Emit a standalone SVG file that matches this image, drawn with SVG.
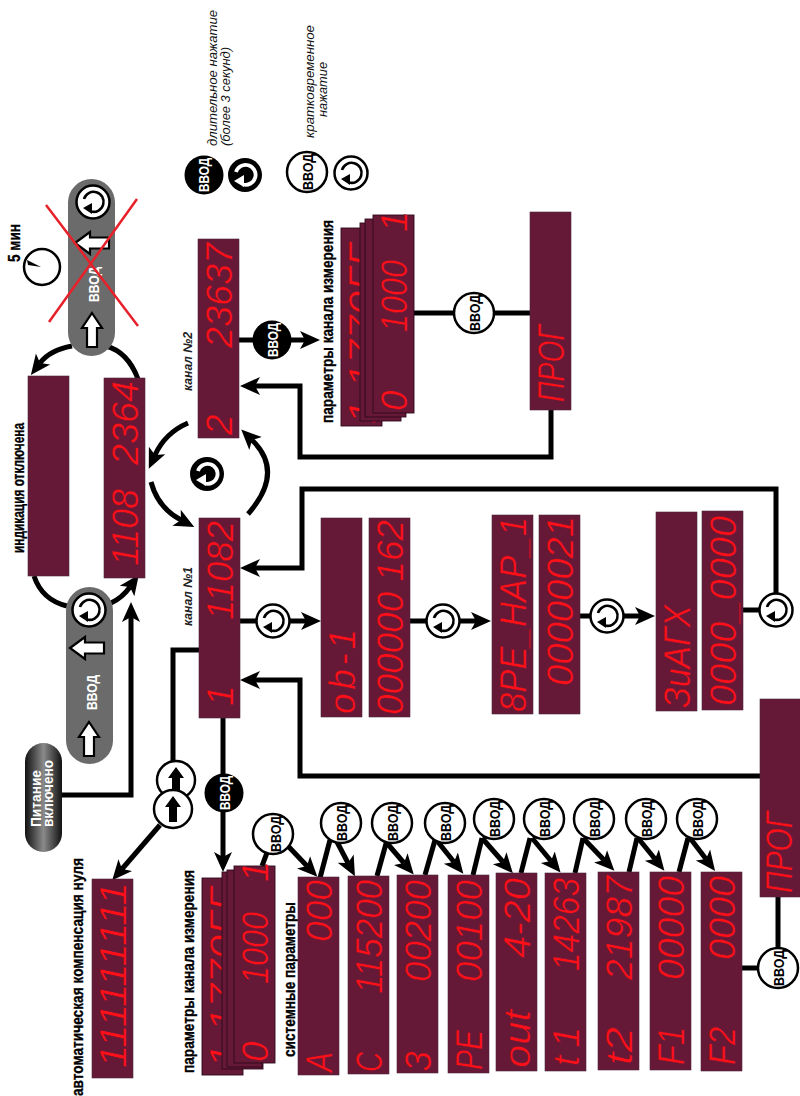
<svg xmlns="http://www.w3.org/2000/svg" width="800" height="1096" viewBox="0 0 800 1096">
<style>
.d{fill:#661837;stroke:#4a2a3a;stroke-width:.6}
.ds{fill:#661837;stroke:#2e0b1b;stroke-width:.9}
.led{font-family:"Liberation Sans",Arial,sans-serif;font-style:italic;font-size:37px;fill:#ff1018;stroke:#661837;stroke-width:.5}
.h{font-family:"Liberation Sans Narrow","Liberation Sans",sans-serif;font-weight:700;font-size:17px;fill:#000;stroke:#000;stroke-width:.35}
.i{font-family:"Liberation Sans",Arial,sans-serif;font-style:italic;font-size:13.500px;fill:#111}
.k{font-family:"Liberation Sans",Arial,sans-serif;font-style:italic;font-weight:700;font-size:12.500px;fill:#222}
.b{font-family:"Liberation Sans Narrow","Liberation Sans",sans-serif;font-weight:700;font-size:15px;fill:#000}
.bw{font-family:"Liberation Sans Narrow","Liberation Sans",sans-serif;font-weight:700;font-size:15px;fill:#fff}
.c{fill:#fff;stroke:#000;stroke-width:2.5}
.l{fill:none;stroke:#000;stroke-width:5}
.a{fill:none;stroke:#000;stroke-width:5;marker-end:url(#ah)}
.p{fill:#6b6b6b}
.w{fill:#fff;stroke:#000;stroke-width:2.2}
.x{stroke:#e8202a;stroke-width:2.5}
</style>
<defs>
<marker id="ah" markerUnits="userSpaceOnUse" markerWidth="26" markerHeight="24" refX="5" refY="12" orient="auto"><path d="M0,3 L20,12 L0,21 L5,12 Z" fill="#000"/></marker>
<linearGradient id="pw" x1="0" x2="1" y1="0" y2="0"><stop offset="0" stop-color="#111"/><stop offset=".5" stop-color="#8a8a8a"/><stop offset="1" stop-color="#111"/></linearGradient>
<g id="rotO"><circle r="16.500" class="c"/><path d="M-9,-3 A10,10 0 1 1 -2,9.500" fill="none" stroke="#000" stroke-width="2.600"/><path d="M-10,6 L-1,1 L-1,12 Z" fill="#000"/></g>
<g id="rotF"><circle r="17" fill="#000"/><path d="M-9,-3 A10,10 0 1 1 -2,9.500" fill="none" stroke="#fff" stroke-width="3.800"/><path d="M-11,6 L-1,0 L-1,12 Z" fill="#fff"/></g>
<path id="wUp" class="w" d="M0,-17 L10,-2 L5,-2 L5,17 L-5,17 L-5,-2 L-10,-2 Z"/>
<path id="wLeft" class="w" d="M-17,0 L-2,-11 L-2,-5.500 L17,-5.500 L17,5.500 L-2,5.500 L-2,11 Z"/>
<path id="kUp" fill="#000" d="M0,-13 L8,-2 L4,-2 L4,13 L-4,13 L-4,-2 L-8,-2 Z"/>
</defs>
<rect width="800" height="1096" fill="#fff"/>

<g id="connectors">
<path class="l" d="M106,346 Q128,352 138,379"/>
<path class="a" d="M72,346 Q50,350 40,363"/>
<path class="l" d="M34,576 Q42,600 67,606"/>
<path class="a" d="M111,603 Q122,598 130,587"/>
<path class="a" d="M62,795 H131 V617"/>
<path class="a" d="M188,423 Q165,433 155,455"/>
<path class="a" d="M151,482 Q158,508 181,520"/>
<path class="a" d="M248,514 Q285,472 252,440"/>
<path class="a" d="M551,410 V457 H300 V386 H255"/>
<path class="a" d="M776,594 V489 H302 V568 H255"/>
<path class="a" d="M760,776 H300 V680 H255"/>
<path class="l" d="M199,650 H173 V800"/>
<path class="a" d="M160,825 L122,869"/>
<path class="a" d="M223,718 V857"/>
<path class="a" d="M239,340 H305"/>
<path class="l" d="M413,313 H530"/>
<path class="a" d="M240,621 H306"/>
<path class="a" d="M410,621 H476"/>
<path class="a" d="M580,616 H640"/>
<path class="l" d="M743,610 H776"/>
<path class="l" d="M262,866 L268,850"/>
<path class="a" d="M288,846 L307,866"/>
<path class="l" d="M320,878 L330,840"/>
<path class="a" d="M336,840 L348,863"/>
<path class="l" d="M377,876 L387,840"/>
<path class="a" d="M386,842 L404,863"/>
<path class="l" d="M425,875 L435,840"/>
<path class="a" d="M438,842 L454,862"/>
<path class="l" d="M473,875 L482,838"/>
<path class="a" d="M482,838 L503,862"/>
<path class="l" d="M521,873 L530,838"/>
<path class="a" d="M532,838 L551,861"/>
<path class="l" d="M575,873 L583,838"/>
<path class="a" d="M583,838 L604,860"/>
<path class="l" d="M629,872 L637,838"/>
<path class="a" d="M638,838 L655,859"/>
<path class="l" d="M679,872 L688,838"/>
<path class="a" d="M690,838 L706,859"/>
<path class="l" d="M742,968 H760"/>
<path class="l" d="M778,897 V950"/>
</g>

<g id="legend">
<text class="i" transform="translate(217,146) rotate(-90)" textLength="136" lengthAdjust="spacingAndGlyphs">длительное нажатие</text>
<text class="i" transform="translate(230,146) rotate(-90)" textLength="99" lengthAdjust="spacingAndGlyphs">(более 3 секунд)</text>
<text class="i" transform="translate(314,138) rotate(-90)" textLength="113" lengthAdjust="spacingAndGlyphs">кратковременное</text>
<text class="i" transform="translate(327,117) rotate(-90)" textLength="55" lengthAdjust="spacingAndGlyphs">нажатие</text>
<g id="legend-long-enter"><circle cx="204" cy="175" r="19.500" fill="#000"/><text class="bw" transform="translate(209,192) rotate(-90)" textLength="34" lengthAdjust="spacingAndGlyphs">ВВОД</text></g>
<use id="legend-long-rot" href="#rotF" x="245" y="175"/>
<g id="legend-short-enter"><circle cx="307" cy="172" r="20" class="c"/><text class="b" transform="translate(313,190) rotate(-90)" textLength="36" lengthAdjust="spacingAndGlyphs">ВВОД</text></g>
<use id="legend-short-rot" href="#rotO" x="351" y="173"/>
</g>

<g id="timer">
<circle cx="42" cy="267" r="18" class="c"/><path d="M27,260 L41,267 L28,265 Z" fill="#000"/>
<text class="h" transform="translate(20,262) rotate(-90)" textLength="38" lengthAdjust="spacingAndGlyphs">5 мин</text>
</g>

<g id="pill-top">
<rect x="68" y="179" width="47" height="177" rx="23.500" class="p"/>
<use href="#rotO" x="93" y="202"/>
<use href="#wLeft" x="92" y="243"/>
<text class="bw" transform="translate(99,302) rotate(-90)" textLength="35" lengthAdjust="spacingAndGlyphs">ВВОД</text>
<use href="#wUp" x="92" y="330"/>
<path class="x" d="M46,205 L138,326 M137,199 L49,322"/>
</g>

<g id="pill-bottom">
<rect x="66" y="587" width="47" height="177" rx="23.500" class="p"/>
<use href="#rotO" x="89" y="610"/>
<use href="#wLeft" x="87" y="648"/>
<text class="bw" transform="translate(97,710) rotate(-90)" textLength="35" lengthAdjust="spacingAndGlyphs">ВВОД</text>
<use href="#wUp" x="89" y="739"/>
</g>

<g id="power">
<rect x="25" y="743" width="37" height="109" rx="18.500" fill="url(#pw)"/>
<text class="bw" transform="translate(41,827) rotate(-90)" textLength="57" lengthAdjust="spacingAndGlyphs">Питание</text>
<text class="bw" transform="translate(53,827) rotate(-90)" textLength="67" lengthAdjust="spacingAndGlyphs">включено</text>
</g>

<g id="off-display"><rect class="d" x="28" y="376" width="41" height="200"/>
<text class="h" transform="translate(24,553) rotate(-90)" textLength="130" lengthAdjust="spacingAndGlyphs">индикация отключена</text></g>

<g id="all-display"><rect class="d" x="104" y="378" width="41" height="200"/>
<text class="led" transform="translate(138,566) rotate(-90)" textLength="77" lengthAdjust="spacingAndGlyphs">1108</text>
<text class="led" transform="translate(138,465) rotate(-90)" textLength="84" lengthAdjust="spacingAndGlyphs">2364</text></g>

<g id="channel-2"><rect class="d" x="198" y="239" width="41" height="199"/>
<text class="led" transform="translate(232,435) rotate(-90)">2</text>
<text class="led" transform="translate(232,348) rotate(-90)" textLength="105" lengthAdjust="spacingAndGlyphs">23637</text>
<text class="k" transform="translate(192,391) rotate(-90)" textLength="59" lengthAdjust="spacingAndGlyphs">канал №2</text></g>

<g id="channel-1"><rect class="d" x="199" y="518" width="41" height="200"/>
<text class="led" transform="translate(233,706) rotate(-90)">1</text>
<text class="led" transform="translate(233,620) rotate(-90)" textLength="99" lengthAdjust="spacingAndGlyphs">11082</text>
<text class="k" transform="translate(192,626) rotate(-90)" textLength="59" lengthAdjust="spacingAndGlyphs">канал №1</text></g>

<use id="rot-center" href="#rotF" x="207" y="474"/>

<g id="enter-ch2"><circle cx="272" cy="340" r="19.500" fill="#000"/><text class="bw" transform="translate(278,357) rotate(-90)" textLength="34" lengthAdjust="spacingAndGlyphs">ВВОД</text></g>

<g id="params-top">
<rect class="ds" x="341" y="228" width="41" height="198"/>
<text class="led" transform="translate(375,424) rotate(-90)" textLength="180" lengthAdjust="spacingAndGlyphs">1 1770ГГ</text>
<rect class="ds" x="360" y="223" width="41" height="198"/>
<rect class="ds" x="365" y="219" width="41" height="198"/>
<rect class="ds" x="373" y="215" width="41" height="198"/>
<text class="led" transform="translate(407,411) rotate(-90)">0</text>
<text class="led" transform="translate(407,332) rotate(-90)" textLength="72" lengthAdjust="spacingAndGlyphs">1000</text>
<text class="led" transform="translate(407,232) rotate(-90)">1</text>
<text class="h" transform="translate(333,423) rotate(-90)" textLength="203" lengthAdjust="spacingAndGlyphs">параметры канала измерения</text>
</g>

<g id="enter-top"><circle cx="474" cy="313" r="20" class="c"/><text class="b" transform="translate(480,331) rotate(-90)" textLength="36" lengthAdjust="spacingAndGlyphs">ВВОД</text></g>

<g id="prog-top"><rect class="d" x="530" y="212" width="41" height="198"/>
<text class="led" transform="translate(564,402) rotate(-90)" textLength="77" lengthAdjust="spacingAndGlyphs">ПРОГ</text></g>

<g id="ob-1"><rect class="d" x="321" y="518" width="41" height="199"/>
<text class="led" transform="translate(355,714) rotate(-90)" textLength="85" lengthAdjust="spacing">ob-1</text></g>
<g id="ob-1-value"><rect class="d" x="369" y="518" width="41" height="199"/>
<text class="led" transform="translate(403,715) rotate(-90)" textLength="195" lengthAdjust="spacingAndGlyphs">000000 162</text></g>
<use id="rot-1" href="#rotO" x="273" y="621"/>
<use id="rot-2" href="#rotO" x="443" y="621"/>

<g id="vre-nar"><rect class="d" x="492" y="515" width="41" height="199"/>
<text class="led" transform="translate(526,712) rotate(-90)" textLength="195" lengthAdjust="spacingAndGlyphs">8PE_HAP_1</text></g>
<g id="vre-nar-value"><rect class="d" x="539" y="515" width="41" height="199"/>
<text class="led" transform="translate(573,686) rotate(-90)" textLength="170" lengthAdjust="spacingAndGlyphs">00000021</text></g>
<use id="rot-3" href="#rotO" x="607" y="616"/>

<g id="zuagh"><rect class="d" x="656" y="512" width="41" height="199"/>
<text class="led" transform="translate(690,708) rotate(-90)" textLength="103" lengthAdjust="spacingAndGlyphs">ЗuАГХ</text></g>
<g id="zuagh-value"><rect class="d" x="702" y="511" width="41" height="199"/>
<text class="led" transform="translate(736,706) rotate(-90)" textLength="190" lengthAdjust="spacingAndGlyphs">0000_0000</text></g>
<use id="rot-4" href="#rotO" x="776" y="610"/>

<g id="prog-bottom"><rect class="d" x="760" y="699" width="41" height="198"/>
<text class="led" transform="translate(792,893) rotate(-90)" textLength="81" lengthAdjust="spacingAndGlyphs">ПРОГ</text></g>

<g id="auto-1"><circle cx="176" cy="780" r="19" class="c"/><use href="#kUp" x="176" y="780"/></g>
<g id="auto-2"><circle cx="173" cy="809" r="19" class="c"/><use href="#kUp" x="173" y="809"/></g>
<g id="enter-ch1"><circle cx="224" cy="793" r="19.500" fill="#000"/><text class="bw" transform="translate(230,810) rotate(-90)" textLength="34" lengthAdjust="spacingAndGlyphs">ВВОД</text></g>

<g id="auto-display"><rect class="d" x="92" y="879" width="41" height="199"/>
<text class="led" transform="translate(126,1068) rotate(-90)" textLength="186" lengthAdjust="spacingAndGlyphs">111111111</text>
<text class="h" transform="translate(83,1096) rotate(-90)" textLength="238" lengthAdjust="spacingAndGlyphs">автоматическая компенсация нуля</text></g>

<g id="params-bottom">
<rect class="ds" x="202" y="878" width="41" height="197"/>
<text class="led" transform="translate(236,1068) rotate(-90)" textLength="180" lengthAdjust="spacingAndGlyphs">1 1770ГГ</text>
<rect class="ds" x="222" y="872" width="41" height="197"/>
<rect class="ds" x="227" y="870" width="35" height="197"/>
<rect class="ds" x="234" y="866" width="41" height="197"/>
<text class="led" transform="translate(268,1062) rotate(-90)">0</text>
<text class="led" transform="translate(268,984) rotate(-90)" textLength="72" lengthAdjust="spacingAndGlyphs">1000</text>
<text class="led" transform="translate(268,882) rotate(-90)">1</text>
<text class="h" transform="translate(194,1073) rotate(-90)" textLength="203" lengthAdjust="spacingAndGlyphs">параметры канала измерения</text>
</g>
<text class="h" transform="translate(295,1057) rotate(-90)" textLength="155" lengthAdjust="spacingAndGlyphs">системные параметры</text>

<g id="sys-a"><rect class="d" x="298" y="877" width="41" height="198"/>
<text class="led" transform="translate(332,1072) rotate(-90)" textLength="20" lengthAdjust="spacingAndGlyphs">A</text>
<text class="led" transform="translate(332,942) rotate(-90)" textLength="62" lengthAdjust="spacingAndGlyphs">000</text></g>
<g id="sys-c"><rect class="d" x="348" y="876" width="41" height="198"/>
<text class="led" transform="translate(382,1072) rotate(-90)" textLength="20" lengthAdjust="spacingAndGlyphs">С</text>
<text class="led" transform="translate(382,994) rotate(-90)" textLength="114" lengthAdjust="spacingAndGlyphs">115200</text></g>
<g id="sys-3"><rect class="d" x="397" y="875" width="41" height="198"/>
<text class="led" transform="translate(431,1071) rotate(-90)" textLength="20" lengthAdjust="spacingAndGlyphs">З</text>
<text class="led" transform="translate(431,982) rotate(-90)" textLength="102" lengthAdjust="spacingAndGlyphs">00200</text></g>
<g id="sys-pe"><rect class="d" x="448" y="875" width="41" height="198"/>
<text class="led" transform="translate(482,1070) rotate(-90)" textLength="40" lengthAdjust="spacingAndGlyphs">PE</text>
<text class="led" transform="translate(482,982) rotate(-90)" textLength="102" lengthAdjust="spacingAndGlyphs">00100</text></g>
<g id="sys-out"><rect class="d" x="496" y="873" width="41" height="198"/>
<text class="led" transform="translate(530,1068) rotate(-90)" textLength="58" lengthAdjust="spacingAndGlyphs">out</text>
<text class="led" transform="translate(530,958) rotate(-90)" textLength="80" lengthAdjust="spacingAndGlyphs">4-20</text></g>
<g id="sys-t1"><rect class="d" x="545" y="873" width="41" height="198"/>
<text class="led" transform="translate(579,1066) rotate(-90)" textLength="39" lengthAdjust="spacing">t1</text>
<text class="led" transform="translate(579,971) rotate(-90)" textLength="93" lengthAdjust="spacingAndGlyphs">14263</text></g>
<g id="sys-t2"><rect class="d" x="598" y="872" width="41" height="198"/>
<text class="led" transform="translate(632,1065) rotate(-90)" textLength="38" lengthAdjust="spacingAndGlyphs">t2</text>
<text class="led" transform="translate(632,980) rotate(-90)" textLength="104" lengthAdjust="spacingAndGlyphs">21987</text></g>
<g id="sys-f1"><rect class="d" x="650" y="872" width="41" height="198"/>
<text class="led" transform="translate(684,1065) rotate(-90)" textLength="38" lengthAdjust="spacingAndGlyphs">F1</text>
<text class="led" transform="translate(684,980) rotate(-90)" textLength="104" lengthAdjust="spacingAndGlyphs">00000</text></g>
<g id="sys-f2"><rect class="d" x="701" y="872" width="41" height="199"/>
<text class="led" transform="translate(735,1065) rotate(-90)" textLength="38" lengthAdjust="spacingAndGlyphs">F2</text>
<text class="led" transform="translate(735,960) rotate(-90)" textLength="84" lengthAdjust="spacingAndGlyphs">0000</text></g>

<g id="enter-1"><circle cx="273" cy="834" r="20" class="c"/><text class="b" transform="translate(281,852) rotate(-90)" textLength="36" lengthAdjust="spacingAndGlyphs">ВВОД</text></g>
<g id="enter-2"><circle cx="341" cy="823" r="20" class="c"/><text class="b" transform="translate(347,841) rotate(-90)" textLength="36" lengthAdjust="spacingAndGlyphs">ВВОД</text></g>
<g id="enter-3"><circle cx="392" cy="823" r="20" class="c"/><text class="b" transform="translate(398,841) rotate(-90)" textLength="36" lengthAdjust="spacingAndGlyphs">ВВОД</text></g>
<g id="enter-4"><circle cx="445" cy="823" r="20" class="c"/><text class="b" transform="translate(451,841) rotate(-90)" textLength="36" lengthAdjust="spacingAndGlyphs">ВВОД</text></g>
<g id="enter-5"><circle cx="494" cy="819" r="20" class="c"/><text class="b" transform="translate(500,837) rotate(-90)" textLength="36" lengthAdjust="spacingAndGlyphs">ВВОД</text></g>
<g id="enter-6"><circle cx="544" cy="819" r="20" class="c"/><text class="b" transform="translate(550,837) rotate(-90)" textLength="36" lengthAdjust="spacingAndGlyphs">ВВОД</text></g>
<g id="enter-7"><circle cx="594" cy="819" r="20" class="c"/><text class="b" transform="translate(600,837) rotate(-90)" textLength="36" lengthAdjust="spacingAndGlyphs">ВВОД</text></g>
<g id="enter-8"><circle cx="646" cy="819" r="20" class="c"/><text class="b" transform="translate(652,837) rotate(-90)" textLength="36" lengthAdjust="spacingAndGlyphs">ВВОД</text></g>
<g id="enter-9"><circle cx="697" cy="819" r="20" class="c"/><text class="b" transform="translate(703,837) rotate(-90)" textLength="36" lengthAdjust="spacingAndGlyphs">ВВОД</text></g>
<g id="enter-bottom"><circle cx="778" cy="968" r="20" class="c"/><text class="b" transform="translate(784,986) rotate(-90)" textLength="36" lengthAdjust="spacingAndGlyphs">ВВОД</text></g>
</svg>
